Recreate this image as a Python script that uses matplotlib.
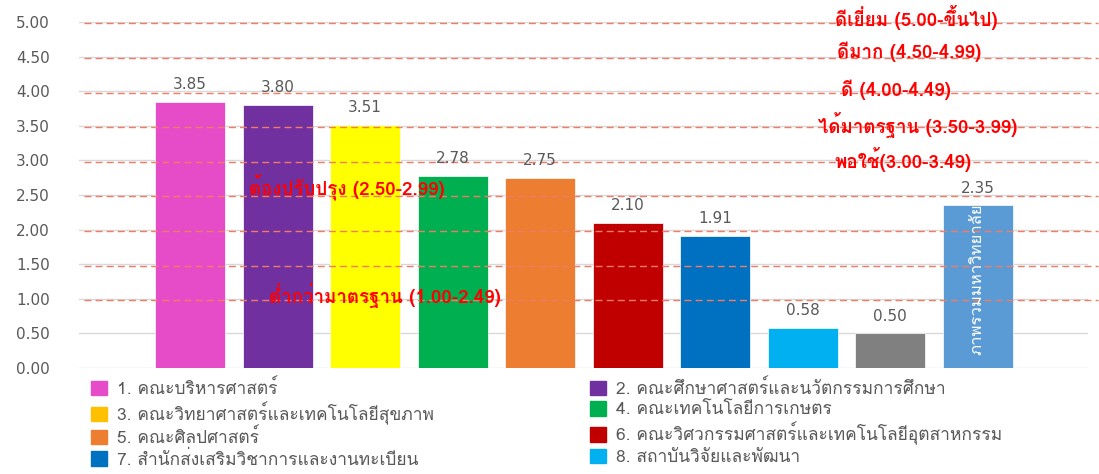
import matplotlib
matplotlib.use("Agg")
import matplotlib.pyplot as plt
from matplotlib import font_manager
from matplotlib.ft2font import FT2Font

# Find installed fonts that have Thai glyphs
thai_fonts = []
for f in font_manager.fontManager.ttflist:
    try:
        if 0x0E01 in FT2Font(f.fname).get_charmap():
            if f.name not in thai_fonts:
                thai_fonts.append(f.name)
    except Exception:
        pass

plt.rcParams["font.family"] = thai_fonts + ["DejaVu Sans"]
num_font = "DejaVu Sans"

# Data
labels = [
    "1. คณะบริหารศาสตร์",
    "2. คณะศึกษาศาสตร์และนวัตกรรมการศึกษา",
    "3. คณะวิทยาศาสตร์และเทคโนโลยีสุขภาพ",
    "4. คณะเทคโนโลยีการเกษตร",
    "5. คณะศิลปศาสตร์",
    "6. คณะวิศวกรรมศาสตร์และเทคโนโลยีอุตสาหกรรม",
    "7. สำนักส่งเสริมวิชาการและงานทะเบียน",
    "8. สถาบันวิจัยและพัฒนา",
    "9. สำนักวิทยบริการและเทคโนโลยีสารสนเทศ",
    "ภาพรวมมหาวิทยาลัย",
]
scores = [3.85, 3.80, 3.51, 2.78, 2.75, 2.10, 1.91, 0.58, 0.50, 2.35]
colors = ["#E64BC8", "#7030A0", "#FFFF00", "#00B050", "#ED7D31",
          "#C00000", "#0070C0", "#00B0F0", "#808080", "#5B9BD5"]
legend_colors = colors[:]
legend_colors[2] = "#FFC000"

level_text = [
    "ดีเยี่ยม (5.00-ขึ้นไป)",
    "ดีมาก (4.50-4.99)",
    "ดี (4.00-4.49)",
    "ได้มาตรฐาน (3.50-3.99)",
    "พอใช้(3.00-3.49)",
    "ต้องปรับปรุง (2.50-2.99)",
    "ต่ำกว่ามาตรฐาน (1.00-2.49)",
]
level_lines = [5.0, 4.5, 4.0, 3.5, 3.0, 2.5, 2.0, 1.5, 1.0]

fig = plt.figure(figsize=(10.99, 4.74), dpi=100)
ax = fig.add_axes([79 / 1099, 106 / 474, (1088 - 79) / 1099, 346 / 474])

x = list(range(len(scores)))
ax.bar(x, scores, width=0.8, color=colors, edgecolor="white", linewidth=0.5, zorder=3)

for xi, s in zip(x, scores):
    ax.text(xi, s + 0.14, f"{s:.2f}", ha="center", va="bottom",
            fontsize=11, color="#595959", fontfamily=num_font, zorder=5)

# Text inside the last bar
ax.text(x[-1], 1.28, labels[-1], rotation=90, ha="center", va="center",
        color="white", fontsize=12, zorder=5)

ax.set_xlim(-1.27, 10.26)
ax.set_ylim(0, 5)
ticks = [0, 0.5, 1, 1.5, 2, 2.5, 3, 3.5, 4, 4.5, 5]
ax.set_yticks(ticks)
ax.set_yticklabels([f"{v:.2f}" for v in ticks], fontsize=11,
                   color="#595959", fontfamily=num_font)
ax.set_xticks([])
ax.tick_params(axis="y", length=0, pad=21)
ax.yaxis.grid(True, color="#D9D9D9", linewidth=1, zorder=0)
for sp in ax.spines.values():
    sp.set_visible(False)

# Red dashed level lines
for y in level_lines:
    ax.axhline(y - 0.02, xmin=0.005, xmax=1.01, color="#F07C66", linestyle=(0, (5, 3)),
               linewidth=1, clip_on=False, zorder=4)

# Level labels
label_pos = [(8.30, 5.07), (8.22, 4.57), (8.06, 4.02), (8.31, 3.51), (8.14, 3.01),
             (1.79, 2.62), (2.22, 1.05)]
for (lx, ly), t in zip(label_pos, level_text):
    ax.text(lx, ly, t, ha="center", va="center", color="#FF0000",
            fontsize=13.5, fontweight="bold", zorder=6)

# Legend, filled row by row
order = [0, 2, 4, 6, 1, 3, 5, 7]
handles = [plt.Rectangle((0, 0), 1, 1, color=legend_colors[i]) for i in order]
fig.legend(handles, [labels[i] for i in order], loc="upper left",
           bbox_to_anchor=(84 / 1099, 1 - 372 / 474),
           ncol=2, frameon=False, fontsize=12.5, labelcolor="#595959",
           handlelength=0.9, handleheight=0.9, handletextpad=0.6,
           columnspacing=9.0, labelspacing=0.2, borderaxespad=0)

fig.savefig("out.png", dpi=100)
